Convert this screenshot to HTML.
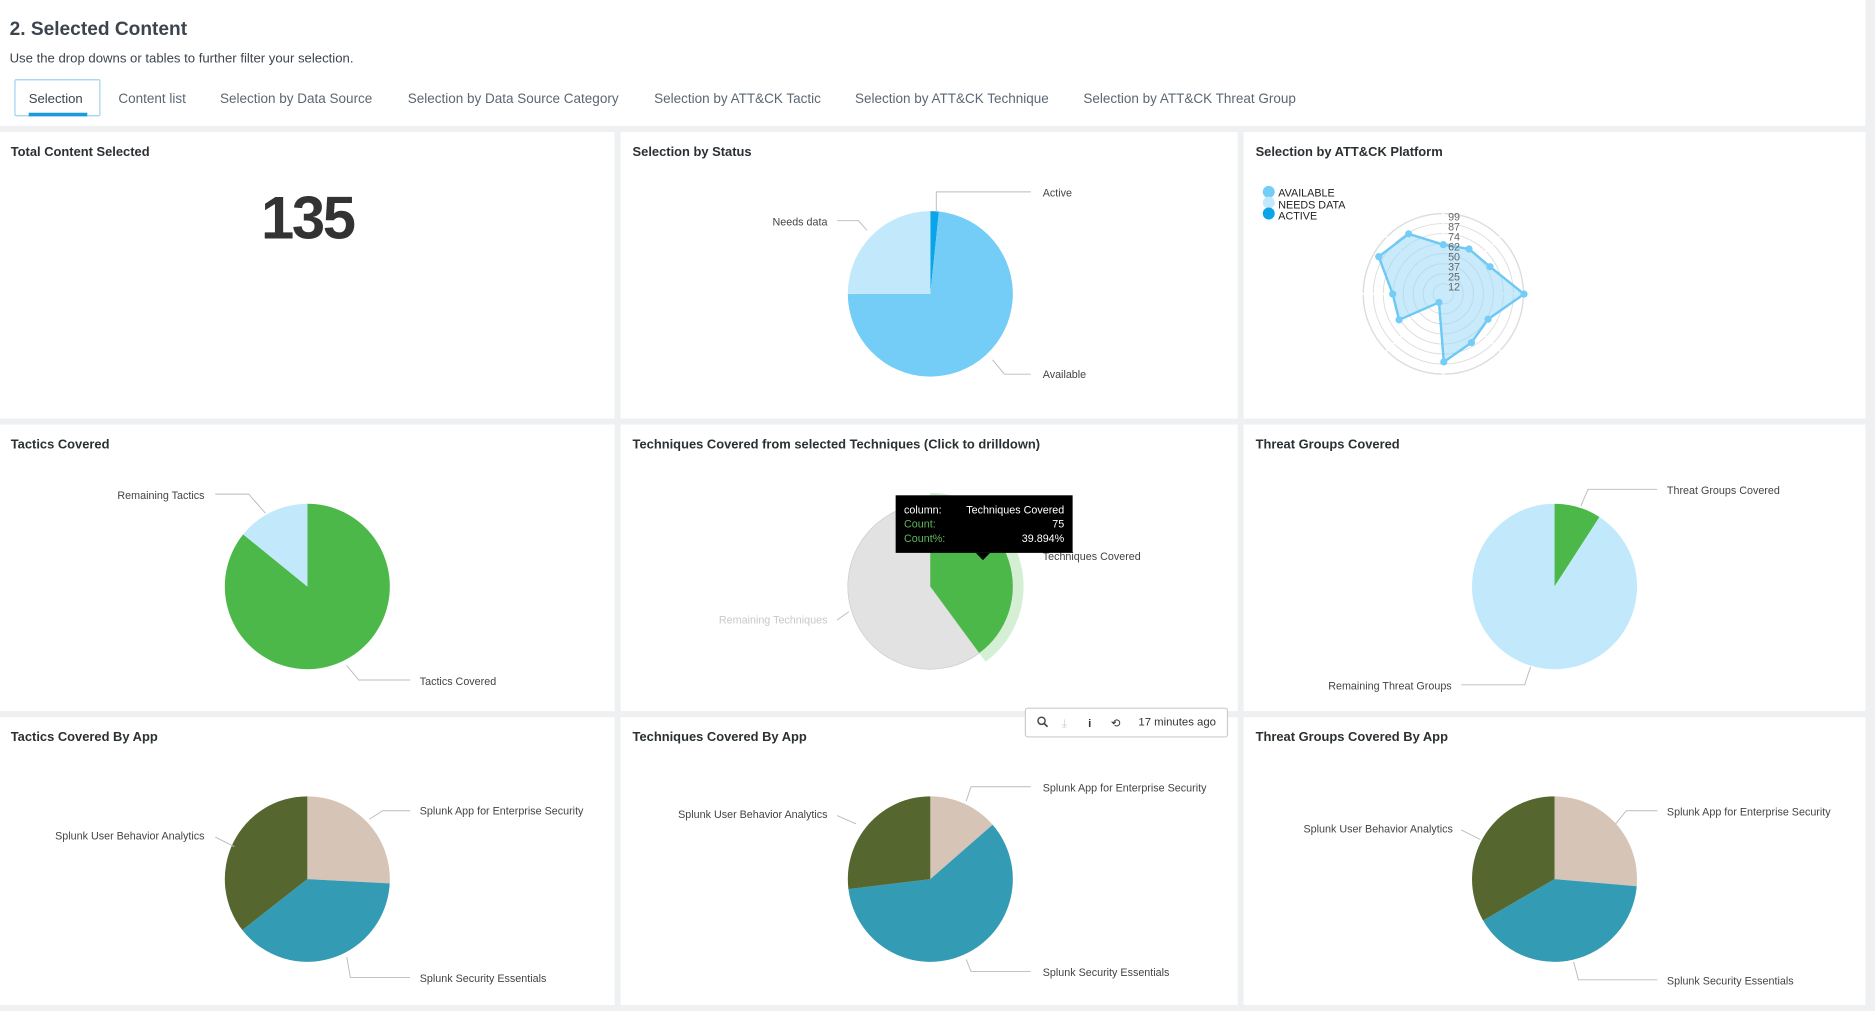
<!DOCTYPE html>
<html><head><meta charset="utf-8"><style>
html,body{margin:0;padding:0;background:#fff;}
svg{display:block;font-family:"Liberation Sans",sans-serif;}
</style></head><body>
<svg width="1875" height="1011" viewBox="0 0 1568 843" preserveAspectRatio="none" xmlns="http://www.w3.org/2000/svg">
<rect x="0" y="0" width="1568" height="843" fill="#eef0f2"/>
<rect x="0" y="0" width="1560" height="105" fill="#fff"/>
<text x="8" y="29" font-size="16" font-weight="bold" fill="#3c444d">2. Selected Content</text>
<text x="8" y="52" font-size="11" fill="#3c444d">Use the drop downs or tables to further filter your selection.</text>
<rect x="12.5" y="66.5" width="71" height="30" fill="#fff" stroke="#9fd3f0" rx="1"/>
<rect x="24" y="94" width="49" height="3" fill="#1a9cdb"/>
<g font-size="11.3" fill="#5c6773">
<text x="24" y="86" fill="#3c444d" font-size="11">Selection</text>
<text x="99" y="86">Content list</text>
<text x="184" y="86">Selection by Data Source</text>
<text x="341" y="86">Selection by Data Source Category</text>
<text x="547" y="86">Selection by ATT&amp;CK Tactic</text>
<text x="715" y="86">Selection by ATT&amp;CK Technique</text>
<text x="906" y="86">Selection by ATT&amp;CK Threat Group</text>
</g>
<g fill="#fff">
<rect x="0" y="110" width="514" height="239"/><rect x="519" y="110" width="516" height="239"/><rect x="1040" y="110" width="520" height="239"/>
<rect x="0" y="354" width="514" height="239"/><rect x="519" y="354" width="516" height="239"/><rect x="1040" y="354" width="520" height="239"/>
<rect x="0" y="598" width="514" height="240"/><rect x="519" y="598" width="516" height="240"/><rect x="1040" y="598" width="520" height="240"/>
</g>
<g font-size="10.8" font-weight="bold" fill="#2b3033">
<text x="9" y="130">Total Content Selected</text>
<text x="529" y="130">Selection by Status</text>
<text x="1050" y="130">Selection by ATT&amp;CK Platform</text>
<text x="9" y="374">Tactics Covered</text>
<text x="529" y="374">Techniques Covered from selected Techniques (Click to drilldown)</text>
<text x="1050" y="374">Threat Groups Covered</text>
<text x="9" y="618">Tactics Covered By App</text>
<text x="529" y="618">Techniques Covered By App</text>
<text x="1050" y="618">Threat Groups Covered By App</text>
</g>
<text x="257" y="199" font-size="50" font-weight="bold" fill="#333" text-anchor="middle" letter-spacing="-2">135</text>

<path d="M778,245L778,176A69,69 0 0 1 785.21,176.38Z" fill="#0aa5e8"/>
<path d="M778,245L785.21,176.38A69,69 0 1 1 709,245Z" fill="#73cdf7"/>
<path d="M778,245L709,245A69,69 0 0 1 778,176Z" fill="#c2e9fb"/>
<path d="M257,489L257,420A69,69 0 1 1 203.38,445.58Z" fill="#4cb849"/>
<path d="M257,489L203.38,445.58A69,69 0 0 1 257,420Z" fill="#c2e9fb"/>
<path d="M778,489L818.94,544.54A69,69 0 1 1 778,420Z" fill="#e2e2e2" stroke="#ccc" stroke-width="0.6"/>
<path d="M778,489L778,411A78,78 0 0 1 824.29,551.78Z" fill="#d4efd3"/>
<path d="M778,489L778,420A69,69 0 0 1 818.94,544.54Z" fill="#4cb849"/>
<path d="M1300,489L1300,420A69,69 0 0 1 1337.58,431.13Z" fill="#4cb849"/>
<path d="M1300,489L1337.58,431.13A69,69 0 1 1 1300,420Z" fill="#c2e9fb"/>
<path d="M257,733L257,664A69,69 0 0 1 325.90,736.61Z" fill="#d6c4b6"/>
<path d="M257,733L325.90,736.61A69,69 0 0 1 202.63,775.48Z" fill="#339bb3"/>
<path d="M257,733L202.63,775.48A69,69 0 0 1 257,664Z" fill="#55662e"/>
<path d="M778,733L778,664A69,69 0 0 1 830.07,687.73Z" fill="#d6c4b6"/>
<path d="M778,733L830.07,687.73A69,69 0 1 1 709.52,741.41Z" fill="#339bb3"/>
<path d="M778,733L709.52,741.41A69,69 0 0 1 778,664Z" fill="#55662e"/>
<path d="M1300,733L1300,664A69,69 0 0 1 1368.74,739.01Z" fill="#d6c4b6"/>
<path d="M1300,733L1368.74,739.01A69,69 0 0 1 1240.25,767.5Z" fill="#339bb3"/>
<path d="M1300,733L1240.25,767.5A69,69 0 0 1 1300,664Z" fill="#55662e"/>

<g font-size="9" fill="#444">
<text x="872" y="164">Active</text>
<text x="692" y="188" text-anchor="end">Needs data</text>
<text x="872" y="315">Available</text>
<text x="171" y="416" text-anchor="end">Remaining Tactics</text>
<text x="351" y="571">Tactics Covered</text>
<text x="692" y="520" text-anchor="end" fill="#c8c8c8">Remaining Techniques</text>
<text x="872" y="467">Techniques Covered</text>
<text x="1394" y="412">Threat Groups Covered</text>
<text x="1214" y="575" text-anchor="end">Remaining Threat Groups</text>
<text x="351" y="679">Splunk App for Enterprise Security</text>
<text x="171" y="700" text-anchor="end">Splunk User Behavior Analytics</text>
<text x="351" y="819">Splunk Security Essentials</text>
<text x="872" y="660">Splunk App for Enterprise Security</text>
<text x="692" y="682" text-anchor="end">Splunk User Behavior Analytics</text>
<text x="872" y="814">Splunk Security Essentials</text>
<text x="1394" y="680">Splunk App for Enterprise Security</text>
<text x="1215" y="694" text-anchor="end">Splunk User Behavior Analytics</text>
<text x="1394" y="821">Splunk Security Essentials</text>
</g>
<g fill="none" stroke="#bbb" stroke-width="0.8">
<polyline points="783,177 783,160 862,160"/>
<polyline points="725,192 718,184 700,184"/>
<polyline points="830,300 840,312 862,312"/>
<polyline points="222,428 208,412 180,412"/>
<polyline points="290,555 300,567 343,567"/>
<polyline points="700,517 710,510"/>
<polyline points="1322,422 1328,408 1386,408"/>
<polyline points="1280,556 1275,571 1222,571"/>
<polyline points="309,683 320,676 343,676"/>
<polyline points="196,706 180,698"/>
<polyline points="290,798 293,815 343,815"/>
<polyline points="808,668 812,656 862,656"/>
<polyline points="716,687 700,680"/>
<polyline points="808,800 812,810 862,810"/>
<polyline points="1351,687 1360,676 1386,676"/>
<polyline points="1238,700 1222,692"/>
<polyline points="1316,802 1320,817 1386,817"/>
</g>
<g fill="none" stroke="#ddd" stroke-width="0.8">
<circle cx="1207" cy="245" r="8.4"/><circle cx="1207" cy="245" r="16.75"/><circle cx="1207" cy="245" r="25.1"/><circle cx="1207" cy="245" r="33.5"/>
<circle cx="1207" cy="245" r="41.9"/><circle cx="1207" cy="245" r="50.25"/><circle cx="1207" cy="245" r="58.6"/><circle cx="1207" cy="245" r="67" stroke-width="1.2"/>
</g>
<g stroke="#fff" stroke-width="1.5">
<line x1="1207" y1="170" x2="1207" y2="200"/><line x1="1207" y1="290" x2="1207" y2="320"/>
<line x1="1132" y1="245" x2="1162" y2="245"/><line x1="1252" y1="245" x2="1282" y2="245"/>
<line x1="1159" y1="197" x2="1175" y2="213"/><line x1="1239" y1="277" x2="1255" y2="293"/>
<line x1="1255" y1="197" x2="1239" y2="213"/><line x1="1175" y1="277" x2="1159" y2="293"/>
</g>
<polygon points="1207,204 1228.5,207.6 1246,222.4 1274.5,245.2 1244.4,266.2 1230.5,285.7 1207.4,301.8 1203.4,252.2 1170,266.7 1164.7,245.2 1153,214 1178,195" fill="#9bd9f7" fill-opacity="0.55" stroke="#6cc8f4" stroke-width="2"/>
<g fill="#73cdf7">
<circle cx="1207" cy="204" r="3"/><circle cx="1228.5" cy="207.6" r="3"/><circle cx="1246" cy="222.4" r="3"/><circle cx="1274.5" cy="245.2" r="3"/>
<circle cx="1244.4" cy="266.2" r="3"/><circle cx="1230.5" cy="285.7" r="3"/><circle cx="1207.4" cy="301.8" r="3"/><circle cx="1203.4" cy="252.2" r="3"/>
<circle cx="1170" cy="266.7" r="3"/><circle cx="1164.7" cy="245.2" r="3"/><circle cx="1153" cy="214" r="3"/><circle cx="1178" cy="195" r="3"/>
</g>
<g font-size="9" fill="#666" text-anchor="middle">
<text x="1216" y="184">99</text><text x="1216" y="192.3">87</text><text x="1216" y="200.6">74</text><text x="1216" y="208.9">62</text>
<text x="1216" y="217.2">50</text><text x="1216" y="225.5">37</text><text x="1216" y="233.8">25</text><text x="1216" y="242.1">12</text>
</g>
<g font-size="9" fill="#222">
<circle cx="1061" cy="160" r="5" fill="#73cdf7"/><text x="1069" y="164">AVAILABLE</text>
<circle cx="1061" cy="169" r="5" fill="#c2e9fb"/><text x="1069" y="174">NEEDS DATA</text>
<circle cx="1061" cy="178" r="5" fill="#0aa5e8"/><text x="1069" y="183">ACTIVE</text>
</g>
<rect x="749" y="413" width="148" height="48" fill="#000"/>
<polygon points="816,461 828,461 822,467" fill="#000"/>
<g font-size="9">
<text x="756" y="428" fill="#fff">column:</text><text x="890" y="428" fill="#fff" text-anchor="end">Techniques Covered</text>
<text x="756" y="440" fill="#5cb85c">Count:</text><text x="890" y="440" fill="#fff" text-anchor="end">75</text>
<text x="756" y="452" fill="#5cb85c">Count%:</text><text x="890" y="452" fill="#fff" text-anchor="end">39.894%</text>
</g>
<rect x="857.5" y="590.5" width="169" height="24" rx="2" fill="#fff" stroke="#ccc"/>
<g font-size="9.5" fill="#333">
<circle cx="871" cy="601" r="3" fill="none" stroke="#444" stroke-width="1.2"/><line x1="873" y1="603" x2="876" y2="606" stroke="#444" stroke-width="1.4"/>
<text x="888" y="606" fill="#ccc">⤓</text>
<text x="910" y="606" font-weight="bold">i</text>
<text x="929" y="606">⟲</text>
<text x="952" y="605">17 minutes ago</text>
</g>
</svg>
</body></html>
